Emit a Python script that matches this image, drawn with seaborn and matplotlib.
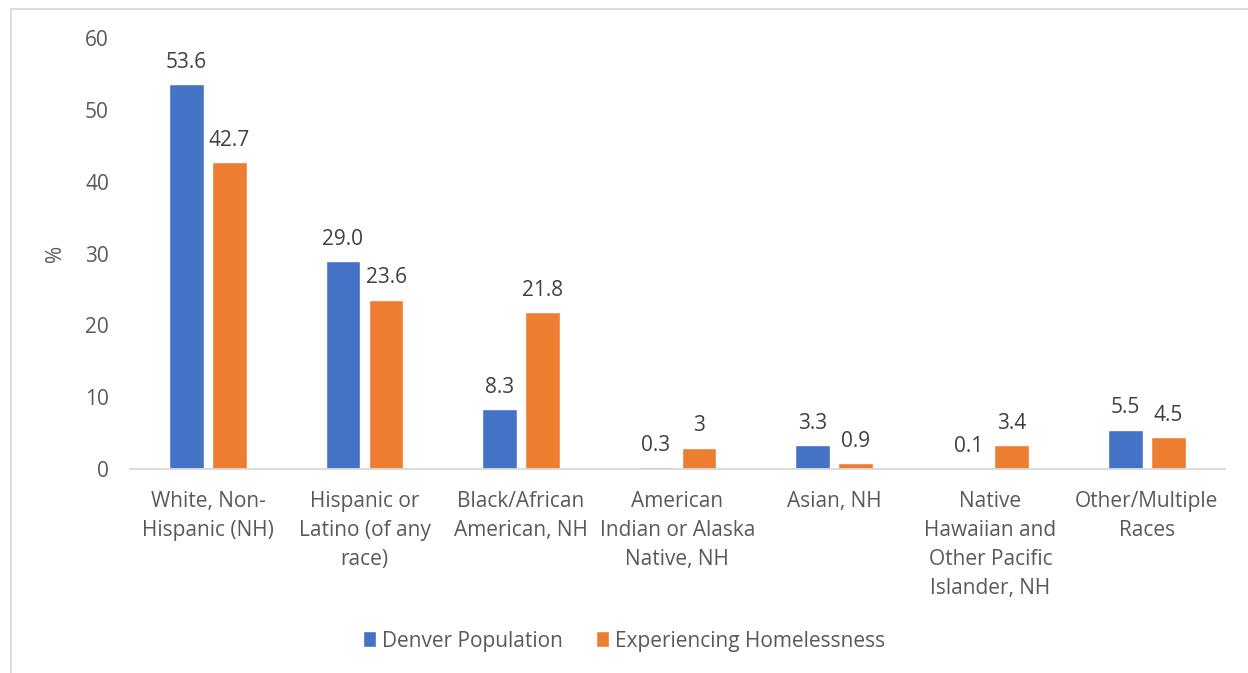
import matplotlib
matplotlib.use("Agg")
import matplotlib.pyplot as plt
from matplotlib.lines import Line2D
import seaborn as sns
import pandas as pd

categories = [
    "White, Non-\nHispanic (NH)",
    "Hispanic or\nLatino (of any\nrace)",
    "Black/African\nAmerican, NH",
    "American\nIndian or Alaska\nNative, NH",
    "Asian, NH",
    "Native\nHawaiian and\nOther Pacific\nIslander, NH",
    "Other/Multiple\nRaces",
]
series_names = ["Denver Population", "Experiencing Homelessness"]
denver = [53.6, 29.0, 8.3, 0.3, 3.3, 0.1, 5.5]
homeless = [42.7, 23.6, 21.8, 3.0, 0.9, 3.4, 4.5]
denver_labels = ["53.6", "29.0", "8.3", "0.3", "3.3", "0.1", "5.5"]
homeless_labels = ["42.7", "23.6", "21.8", "3", "0.9", "3.4", "4.5"]
yticks = [0, 10, 20, 30, 40, 50, 60]

colors = ["#4472C4", "#ED7D31"]
text_color = "#595959"
fs = 15

df = pd.DataFrame({
    "category": categories * 2,
    "series": [series_names[0]] * len(categories) + [series_names[1]] * len(categories),
    "value": denver + homeless,
})

sns.set_theme(style="white")
plt.rcParams["font.family"] = ["Open Sans", "DejaVu Sans"]

fig = plt.figure(figsize=(12.48, 6.73), dpi=100)
ax = fig.add_axes([0.104, 0.303, 0.8776, 0.6405])

sns.barplot(data=df, x="category", y="value", hue="series", order=categories,
            hue_order=series_names, palette=colors, width=0.55, gap=0.19,
            saturation=1, ax=ax, legend=True)

ax.set_ylim(0, 60)
ax.set_yticks(yticks)
ax.set_yticklabels([str(t) for t in yticks], fontsize=fs, color=text_color)
ax.set_xlim(-0.5, len(categories) - 0.5)
ax.set_xlabel("")
ax.set_ylabel("%", fontsize=fs, color=text_color, labelpad=14)
ax.tick_params(axis="y", length=0, pad=15)
ax.tick_params(axis="x", length=0, pad=16)
for lbl in ax.get_xticklabels():
    lbl.set_fontsize(fs)
    lbl.set_color(text_color)
    lbl.set_linespacing(1.5)
    lbl.set_verticalalignment("top")

for s in ["top", "right", "left"]:
    ax.spines[s].set_visible(False)
ax.spines["bottom"].set_color("#D9D9D9")
ax.spines["bottom"].set_linewidth(1.3)

for cont, labs in zip(ax.containers, [denver_labels, homeless_labels]):
    ax.bar_label(cont, labels=labs, padding=8, fontsize=fs, color="#404040")

handles, labels_ = ax.get_legend_handles_labels()
ax.legend(handles, labels_, loc="center", bbox_to_anchor=(0.5, 1 - 641 / 673),
          bbox_transform=fig.transFigure,
          ncol=2, frameon=False, fontsize=fs, handlelength=0.6, handleheight=0.8,
          columnspacing=1.6, handletextpad=0.3, labelcolor=text_color)

# chart frame
fig.add_artist(Line2D([11 / 1248, 1.0], [1 - 9 / 673, 1 - 9 / 673], transform=fig.transFigure,
                      color="#D9D9D9", linewidth=1.3))
fig.add_artist(Line2D([11 / 1248, 11 / 1248], [0, 1 - 9 / 673], transform=fig.transFigure,
                      color="#D9D9D9", linewidth=1.3))

fig.savefig("out.png", dpi=100, facecolor="white")
